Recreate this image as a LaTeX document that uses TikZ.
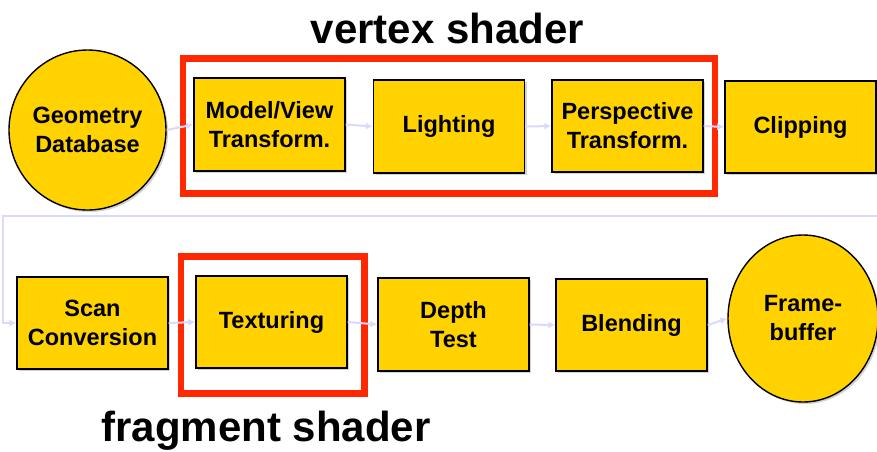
\documentclass[tikz,border=0pt]{standalone}
\usepackage{fontspec}
\setmainfont{Liberation Sans}
\usetikzlibrary{arrows.meta,shadows,shapes.geometric}
\definecolor{gold}{RGB}{255,210,0}
\definecolor{hired}{RGB}{255,40,0}
\definecolor{lav}{RGB}{218,218,255}
\begin{document}
\begin{tikzpicture}[x=1pt,y=-1pt,
  stage/.style={draw=black,line width=1.4pt,fill=gold,align=center,
    font=\fontsize{23.5}{29}\selectfont\bfseries,inner sep=0pt,
    drop shadow={opacity=0.35,shadow xshift=2pt,shadow yshift=-2pt}},
  boxstage/.style={stage,rectangle,minimum width=151pt,minimum height=92pt},
  ovalstage/.style={stage,ellipse},
  flow/.style={draw=lav,line width=2pt,-{Latex[length=7pt,width=7pt]}},
  group/.style={draw=hired,line width=6.5pt},
  title/.style={font=\fontsize{42}{46}\selectfont\bfseries,anchor=base}]
\useasboundingbox (0,0) rectangle (877,451);
\fill[white] (0,0) rectangle (877,451);
% groups
\draw[group] (183,58.5) rectangle (715,193.5);
\draw[group] (181,256.5) rectangle (364.5,393.5);
% upper row
\node[ovalstage,minimum width=157pt,minimum height=160pt] (geo) at (87.5,130) {Geometry\\Database};
\node[boxstage,minimum height=93pt] (mv) at (269.5,124.5) {Model/View\\Transform.};
\node[boxstage,minimum height=93pt] (light) at (449,126.5) {Lighting};
\node[boxstage] (persp) at (627.5,126) {Perspective\\Transform.};
\node[boxstage] (clip) at (800.5,127) {Clipping};
% lower row
\node[boxstage] (scan) at (92.5,323) {Scan\\Conversion};
\node[boxstage] (tex) at (271.5,322) {Texturing};
\node[boxstage,minimum height=93pt] (depth) at (453.5,324.5) {Depth\\Test};
\node[boxstage] (blend) at (631.5,325) {Blending};
\node[ovalstage,minimum width=150pt,minimum height=167pt] (fb) at (803,318.5) {Frame-\\buffer};
% connectors
\draw[flow] (geo.east) -- (mv.west);
\draw[flow] (mv.east) -- (light.west);
\draw[flow] (light.east) -- (persp.west);
\draw[flow] (persp.east) -- (clip.west);
\coordinate (wr) at (877,216);
\coordinate (wl) at (3,216);
\draw[flow] (wr) -- (wl) |- (scan.west);
\draw[flow] (scan.east) -- (tex.west);
\draw[flow] (tex.east) -- (depth.west);
\draw[flow] (depth.east) -- (blend.west);
\draw[flow] (blend.east) -- (fb.west);
% titles
\node[title] (vs) at (447.5,43) {vertex shader};
\node[title] (fs) at (266,441) {fragment shader};
\end{tikzpicture}
\end{document}
